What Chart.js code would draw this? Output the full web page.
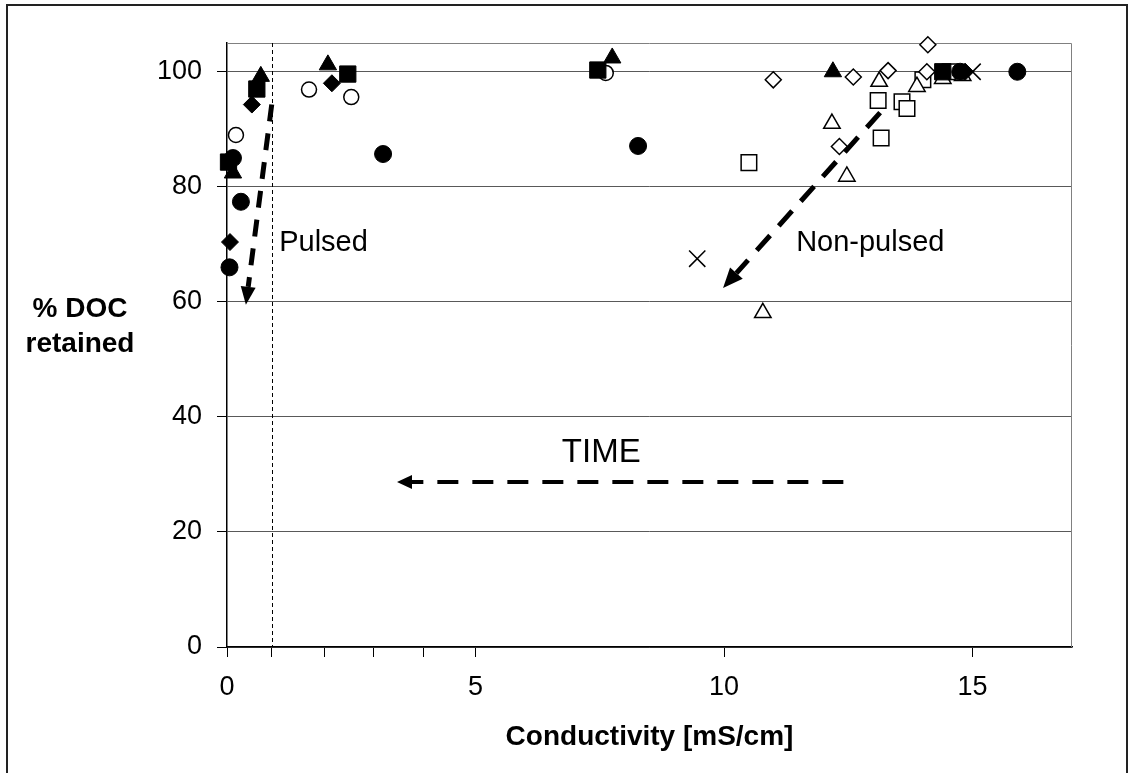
<!DOCTYPE html>
<html>
<head>
<meta charset="utf-8">
<script src="https://cdn.jsdelivr.net/npm/chart.js@4"></script>
<style>
  html, body { margin: 0; padding: 0; background: #fff; }
</style>
</head>
<body>
<canvas id="doc_chart" width="1134" height="773"></canvas>
<script>
// Points: [conductivity mS/cm, % DOC retained]
const filledCircle   = [[0.05, 66], [0.12, 85], [0.28, 77.4], [3.14, 85.7], [8.27, 87.1], [14.75, 100], [15.9, 100]];
const filledDiamond  = [[0.06, 70.4], [0.5, 94.3], [2.11, 98], [14.85, 100]];
const filledTriangle = [[0.12, 82.4], [0.68, 99.2], [2.03, 101.2], [7.75, 102.4], [12.19, 100]];
const filledSquare   = [[0.03, 84.3], [0.6, 97], [2.43, 99.6], [7.46, 100.3], [14.4, 100]];
const openCircle     = [[0.18, 89], [1.65, 96.9], [2.5, 95.6], [7.62, 99.8]];
const openDiamond    = [[10.99, 98.6], [12.32, 87], [12.6, 99.1], [13.3, 100.2], [14.08, 100], [14.1, 104.7]];
const openTriangle   = [[10.78, 58.1], [12.17, 91], [12.47, 81.8], [13.12, 98.3], [13.88, 97.4], [14.4, 98.8], [14.8, 99.3]];
const openSquare     = [[10.5, 84.2], [13.1, 95], [13.16, 88.5], [13.58, 94.8], [13.68, 93.6], [14.0, 98.6], [14.55, 100]];
const crosses        = [[9.46, 67.5], [15.0, 100]];

// axis ticks
const xTicks = [0, 0.9, 1.97, 2.94, 3.95, 5, 10, 15];
const xTickLabels = [0, 5, 10, 15];
const yTicks = [0, 20, 40, 60, 80, 100];
const pulseLimit = 0.9; // dashed vertical line

// dashed arrows, [from, to] in data units
const arrowPulsed    = [[0.9, 94.3], [0.38, 59.5]];
const arrowNonPulsed = [[13.14, 92.9], [9.98, 62.4]];
const arrowTime      = [[12.4, 28.7], [3.42, 28.7]];

const FONT = "'Liberation Sans', Arial, sans-serif";

function toPoints(arr) {
  return arr.map(p => ({ x: p[0], y: p[1] }));
}

function series(label, pts, style, radius, filled) {
  return {
    label: label,
    data: toPoints(pts),
    pointStyle: style,
    pointRadius: radius,
    pointHoverRadius: radius,
    pointBackgroundColor: filled ? "#000" : "#fff",
    pointBorderColor: "#000",
    pointBorderWidth: filled ? 1 : 1.5,
    showLine: false,
    clip: false, // markers may spill over the axes, as in the original
  };
}

function drawArrow(ctx, x0, y0, x1, y1, width, dash, headLen, headW) {
  const ang = Math.atan2(y1 - y0, x1 - x0);
  const bx = x1 - Math.cos(ang) * headLen;
  const by = y1 - Math.sin(ang) * headLen;
  ctx.save();
  ctx.strokeStyle = "#000";
  ctx.fillStyle = "#000";
  ctx.lineWidth = width;
  ctx.lineCap = "butt";
  ctx.setLineDash(dash);
  ctx.beginPath();
  ctx.moveTo(x0, y0);
  ctx.lineTo(bx, by);
  ctx.stroke();
  ctx.setLineDash([]);
  ctx.beginPath();
  ctx.moveTo(x1, y1);
  ctx.lineTo(bx + Math.sin(ang) * headW / 2, by - Math.cos(ang) * headW / 2);
  ctx.lineTo(bx - Math.sin(ang) * headW / 2, by + Math.cos(ang) * headW / 2);
  ctx.closePath();
  ctx.fill();
  ctx.restore();
}

// frame, plot border, dashed limit line, arrows and free text
const decorations = {
  id: "decorations",
  beforeDraw(chart) {
    const ctx = chart.ctx;
    ctx.save();
    ctx.fillStyle = "#fff";
    ctx.fillRect(0, 0, chart.width, chart.height);
    ctx.strokeStyle = "#222";
    ctx.lineWidth = 2;
    ctx.strokeRect(7, 5, 1120, 900);
    ctx.restore();
  },
  beforeDatasetsDraw(chart) {
    const { ctx, chartArea: a, scales: { x } } = chart;
    ctx.save();
    ctx.strokeStyle = "#808080";
    ctx.lineWidth = 1;
    ctx.beginPath();
    ctx.moveTo(a.left, a.top + 0.5);
    ctx.lineTo(a.right - 0.5, a.top + 0.5);
    ctx.lineTo(a.right - 0.5, a.bottom);
    ctx.stroke();
    const px = Math.round(x.getPixelForValue(pulseLimit)) + 0.5;
    ctx.strokeStyle = "#000";
    ctx.setLineDash([4, 3]);
    ctx.beginPath();
    ctx.moveTo(px, a.top);
    ctx.lineTo(px, a.bottom);
    ctx.stroke();
    ctx.restore();
  },
  afterDatasetsDraw(chart) {
    const { ctx, scales: { x, y } } = chart;
    const P = (p) => [x.getPixelForValue(p[0]), y.getPixelForValue(p[1])];
    let a, b;
    [a, b] = [P(arrowPulsed[0]), P(arrowPulsed[1])];
    drawArrow(ctx, a[0], a[1], b[0], b[1], 5, [17, 12], 18, 15);
    [a, b] = [P(arrowNonPulsed[0]), P(arrowNonPulsed[1])];
    drawArrow(ctx, a[0], a[1], b[0], b[1], 5, [20, 13], 20, 17);
    [a, b] = [P(arrowTime[0]), P(arrowTime[1])];
    drawArrow(ctx, a[0], a[1], b[0], b[1], 4, [21, 14], 15, 14);

    ctx.save();
    ctx.fillStyle = "#000";
    ctx.textBaseline = "middle";
    ctx.font = "29px " + FONT;
    ctx.textAlign = "left";
    ctx.fillText("Pulsed", x.getPixelForValue(1.05), y.getPixelForValue(70.3));
    ctx.fillText("Non-pulsed", x.getPixelForValue(11.45), y.getPixelForValue(70.3));
    ctx.font = "33px " + FONT;
    ctx.textAlign = "center";
    ctx.fillText("TIME", x.getPixelForValue(7.53), y.getPixelForValue(33.7));

    ctx.font = "bold 28px " + FONT;
    ctx.fillText("% DOC", 80, 309);
    ctx.fillText("retained", 80, 344);
    ctx.fillText("Conductivity [mS/cm]", (chart.chartArea.left + chart.chartArea.right) / 2, 737);
    ctx.restore();
  },
};

const data = {
  datasets: [
    series("filled circle", filledCircle, "circle", 8.5, true),
    series("filled diamond", filledDiamond, "rectRot", 8.5, true),
    series("filled triangle", filledTriangle, "triangle", 10, true),
    series("filled square", filledSquare, "rect", 11.5, true),
    series("open circle", openCircle, "circle", 7.5, false),
    series("open diamond", openDiamond, "rectRot", 8, false),
    series("open triangle", openTriangle, "triangle", 9.5, false),
    series("open square", openSquare, "rect", 11, false),
    series("cross", crosses, "crossRot", 11.5, false),
  ],
};

const config = {
  type: "scatter",
  data: data,
  options: {
    responsive: false,
    animation: false,
    devicePixelRatio: 1,
    layout: { padding: { left: 0, top: 43, right: 62, bottom: 0 } },
    plugins: {
      legend: { display: false },
      tooltip: { enabled: false },
    },
    scales: {
      x: {
        type: "linear",
        min: 0,
        max: 17,
        afterBuildTicks: (scale) => {
          scale.ticks = xTicks.map((v) => ({ value: v }));
        },
        afterFit: (scale) => {
          scale.height = 126;
        },
        border: { color: "#000", width: 1.5 },
        grid: {
          drawOnChartArea: false,
          drawTicks: true,
          tickLength: 10,
          tickColor: "#000",
        },
        ticks: {
          autoSkip: false,
          maxRotation: 0,
          padding: 14,
          color: "#000",
          font: { family: FONT, size: 27 },
          callback: (value) => (xTickLabels.includes(value) ? String(value) : ""),
        },
      },
      y: {
        type: "linear",
        min: 0,
        max: 105,
        afterBuildTicks: (scale) => {
          scale.ticks = yTicks.map((v) => ({ value: v }));
        },
        afterFit: (scale) => {
          scale.width = 227;
        },
        border: { color: "#000", width: 1.5 },
        grid: {
          color: "#595959",
          lineWidth: 1,
          drawTicks: true,
          tickLength: 10,
          tickColor: "#000",
        },
        ticks: {
          padding: 15,
          color: "#000",
          font: { family: FONT, size: 27 },
        },
      },
    },
  },
  plugins: [decorations],
};

new Chart(document.getElementById("doc_chart").getContext("2d"), config);
</script>
</body>
</html>
